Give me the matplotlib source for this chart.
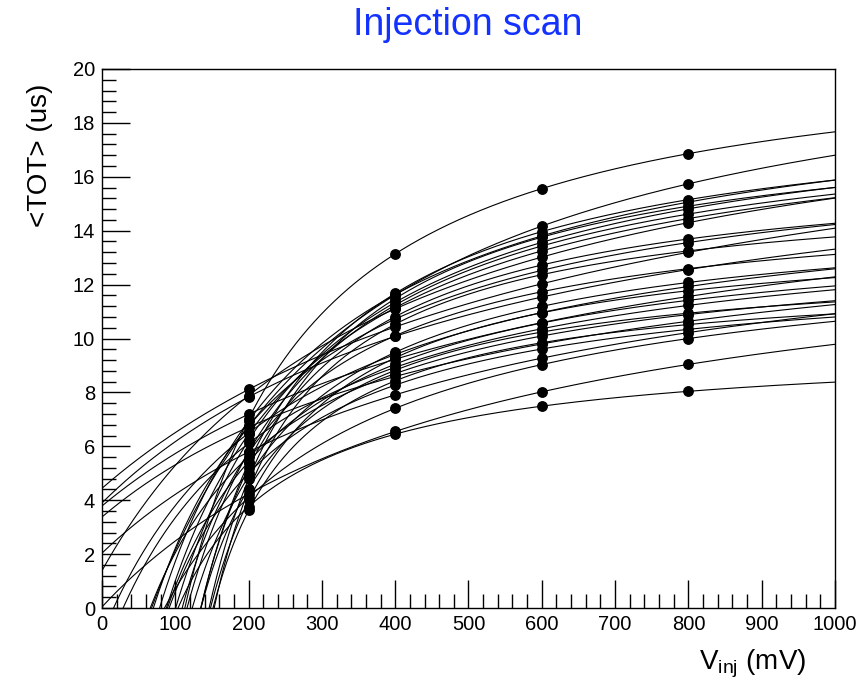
import numpy as np
import matplotlib
matplotlib.use("Agg")
import matplotlib.pyplot as plt
from matplotlib.ticker import MultipleLocator

plt.rcParams['font.family'] = ['Liberation Sans', 'DejaVu Sans']
plt.rcParams['mathtext.fontset'] = 'custom'
plt.rcParams['mathtext.rm'] = 'Liberation Sans'
plt.rcParams['mathtext.it'] = 'Liberation Sans'

# Injection voltages (mV)
v_inj = [200, 400, 600, 800]

# <TOT> (us) for each channel at each injection voltage
tot_200 = [7.02, 6.74, 5.38, 6.94, 4.79, 6.22, 5.79, 6.45, 7.88, 5.21,
           6.75, 4.36, 8.11, 5.76, 7.83, 4.88, 6.49, 3.99, 7.19, 5.43,
           6.11, 4.43, 5.61, 6.71, 3.62, 5.0, 5.79, 4.1, 4.23, 3.76]
tot_400 = [13.14, 11.62, 11.67, 11.63, 11.48, 11.34, 11.24, 11.14, 11.1, 10.81,
           10.72, 10.53, 10.43, 10.1, 10.08, 9.49, 9.41, 9.28, 9.23, 9.05,
           8.93, 8.82, 8.7, 8.59, 8.43, 8.27, 7.91, 7.41, 6.55, 6.45]
tot_600 = [15.56, 14.17, 13.97, 13.81, 13.76, 13.57, 13.43, 13.25, 13.02, 12.73,
           12.53, 12.37, 12.03, 11.74, 11.54, 11.19, 10.96, 10.96, 10.59, 10.57,
           10.36, 10.24, 10.09, 9.8, 9.84, 9.61, 9.27, 9.03, 8.02, 7.49]
tot_800 = [16.86, 15.74, 15.15, 15.06, 14.91, 14.81, 14.62, 14.45, 14.3, 13.69,
           13.56, 13.25, 13.2, 12.59, 12.56, 12.08, 11.93, 11.77, 11.56, 11.42,
           11.23, 10.94, 10.89, 10.64, 10.52, 10.34, 10.22, 10.0, 9.04, 8.04]


def fit_tot(xs, ys):
    """Least-squares fit of TOT(V) = a - c / (V - t)."""
    xs = np.asarray(xs, float)
    ys = np.asarray(ys, float)
    best = None
    grid = np.concatenate([np.linspace(-6000, -1500, 300),
                           np.linspace(-1500, 190, 6000)])
    for t in grid:
        A = np.column_stack([np.ones_like(xs), -1.0 / (xs - t)])
        p = np.linalg.lstsq(A, ys, rcond=None)[0]
        r = np.sum((A @ p - ys) ** 2)
        if best is None or r < best[0]:
            best = (r, t, p)
    return best[1], best[2]


fig = plt.figure(figsize=(8.62, 6.91), dpi=100)
ax = fig.add_axes([102 / 862, 1 - 608 / 691, (835 - 102) / 862, (608 - 69) / 691])

for i in range(len(tot_200)):
    ys = [tot_200[i], tot_400[i], tot_600[i], tot_800[i]]
    t, (a, c) = fit_tot(v_inj, ys)
    xx = np.linspace(max(0.0, t + 0.05), 1000, 1500)
    ax.plot(xx, a - c / (xx - t), color='black', lw=0.8, zorder=2)
    ax.plot(v_inj, ys, 'o', color='black', ms=6.8, zorder=3)

ax.set_xlim(0, 1000)
ax.set_ylim(0, 20)
ax.xaxis.set_major_locator(MultipleLocator(100))
ax.xaxis.set_minor_locator(MultipleLocator(20))
ax.yaxis.set_major_locator(MultipleLocator(2))
ax.yaxis.set_minor_locator(MultipleLocator(0.4))
ax.tick_params(which='both', direction='in', top=False, right=False,
               labelsize=14.5, width=1, pad=5)
ax.tick_params(which='major', length=20)
ax.tick_params(which='minor', length=10)
for s in ax.spines.values():
    s.set_linewidth(1)

fig.text(468 / 862, 1 - 25 / 691, 'Injection scan', color='#1432ff',
         fontsize=27, ha='center', va='center')
fig.text(40 / 862, 1 - 84 / 691, '<TOT> (us)', rotation=90, fontsize=20,
         ha='center', va='top')
fig.text(806 / 862, 1 - 664 / 691, r'V$_{\mathrm{inj}}$ (mV)', fontsize=20,
         ha='right', va='center')

fig.savefig('out.png', dpi=100)
